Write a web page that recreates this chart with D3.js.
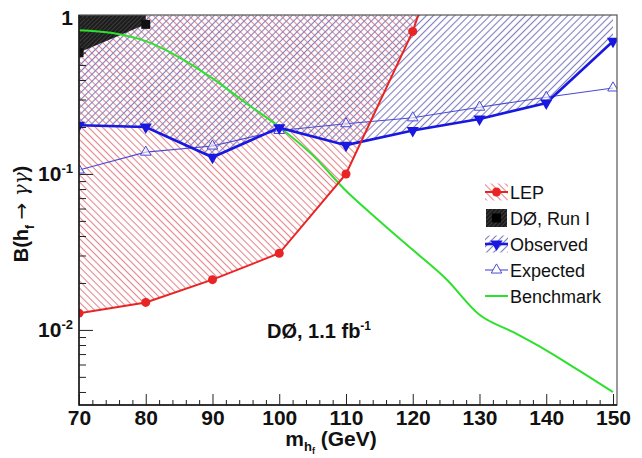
<!DOCTYPE html>
<html>
<head>
<meta charset="utf-8">
<script src="https://cdn.jsdelivr.net/npm/d3@7"></script>
<style>
  body { margin: 0; background: #fff; }
  svg { display: block; font-family: "Liberation Sans", Arial, Helvetica, sans-serif; }
</style>
</head>
<body>
<svg id="chart" width="642" height="458"></svg>
<script>
// Higgs mass points (GeV) and branching ratio limits
var lepMass = [70, 80, 90, 100, 110, 120, 121];
var lepLimit = [0.0128, 0.0150, 0.0210, 0.0310, 0.100, 0.82, 1.1];

var run1Mass = [70, 80];
var run1Limit = [0.60, 0.91];

var limMass = [70, 80, 90, 100, 110, 120, 130, 140, 150];
var obsLimit = [0.205, 0.200, 0.128, 0.198, 0.153, 0.190, 0.225, 0.285, 0.71];
var expLimit = [0.106, 0.138, 0.151, 0.190, 0.210, 0.229, 0.268, 0.310, 0.356];

var benchMass = [70, 75, 80, 85, 90, 95, 100, 105, 110, 115, 120, 125, 130, 135, 140, 145, 150];
var benchBr = [0.835, 0.80, 0.71, 0.56, 0.41, 0.285, 0.200, 0.132, 0.078, 0.050, 0.0326, 0.0212, 0.0125, 0.0097, 0.0074, 0.00546, 0.0040];

var xMajor = [70, 80, 90, 100, 110, 120, 130, 140, 150];
var yMajor = [0.01, 0.1, 1];
var yLabels = [["10", "-2"], ["10", "-1"], ["1", ""]];

var legendNames = ["LEP", "D\u00d8, Run I", "Observed", "Expected", "Benchmark"];

// plot frame (window.top is reserved, so prefixed names)
var pLeft = 79, pRight = 617, pTop = 15, pBottom = 405;

var svg = d3.select("#chart");

var x = d3.scaleLinear().domain([70, 150.6]).range([pLeft, pRight]);
var y = d3.scaleLog().domain([0.0033, 1.045]).range([pBottom, pTop]);
var yTop = y.domain()[1];

var defs = svg.append("defs");

function hatch(id, color, angle, gap, w) {
  var p = defs.append("pattern")
    .attr("id", id)
    .attr("patternUnits", "userSpaceOnUse")
    .attr("width", gap)
    .attr("height", gap)
    .attr("patternTransform", "rotate(" + angle + ")");
  p.append("line")
    .attr("x1", gap / 2).attr("y1", 0)
    .attr("x2", gap / 2).attr("y2", gap)
    .attr("stroke", color)
    .attr("stroke-width", w);
}
hatch("hatchRed", "#e5868c", -45, 5, 1.1);
hatch("hatchBlue", "#8080c0", 45, 5, 1.1);
hatch("hatchDark", "#4a4a4a", 45, 3, 0.7);

defs.append("clipPath").attr("id", "plotClip")
  .append("rect")
  .attr("x", pLeft).attr("y", pTop)
  .attr("width", pRight - pLeft).attr("height", pBottom - pTop);

var plot = svg.append("g").attr("clip-path", "url(#plotClip)");

function areaAbove(xs, ys) {
  return d3.area()
    .x(function(d, i) { return x(xs[i]); })
    .y0(y(yTop))
    .y1(function(d) { return y(d); })(ys);
}

function lineOf(xs, ys, curve) {
  return d3.line()
    .x(function(d, i) { return x(xs[i]); })
    .y(function(d) { return y(d); })
    .curve(curve || d3.curveLinear)(ys);
}

// excluded regions
plot.append("path")
  .attr("d", areaAbove(lepMass, lepLimit))
  .attr("fill", "url(#hatchRed)");

plot.append("path")
  .attr("d", areaAbove(limMass, obsLimit))
  .attr("fill", "url(#hatchBlue)");

plot.append("path")
  .attr("d", areaAbove(run1Mass, run1Limit))
  .attr("fill", "#1c1c1c");
plot.append("path")
  .attr("d", areaAbove(run1Mass, run1Limit))
  .attr("fill", "url(#hatchDark)");

// benchmark curve
plot.append("path")
  .attr("d", lineOf(benchMass, benchBr, d3.curveMonotoneX))
  .attr("fill", "none")
  .attr("stroke", "#2ee02e")
  .attr("stroke-width", 2);

// expected limit
plot.append("path")
  .attr("d", lineOf(limMass, expLimit))
  .attr("fill", "none")
  .attr("stroke", "#4a4ad6")
  .attr("stroke-width", 1.1);

// observed limit
plot.append("path")
  .attr("d", lineOf(limMass, obsLimit))
  .attr("fill", "none")
  .attr("stroke", "#1818e0")
  .attr("stroke-width", 2.6);

// LEP
plot.append("path")
  .attr("d", lineOf(lepMass, lepLimit))
  .attr("fill", "none")
  .attr("stroke", "#e82424")
  .attr("stroke-width", 2);

var triUp = d3.symbol().type(d3.symbolTriangle).size(48);
var triDown = d3.symbol().type(d3.symbolTriangle).size(64);

plot.selectAll(".exp").data(expLimit).enter().append("path")
  .attr("d", triUp)
  .attr("transform", function(d, i) { return "translate(" + x(limMass[i]) + "," + y(d) + ")"; })
  .attr("fill", "#fff")
  .attr("fill-opacity", 0.6)
  .attr("stroke", "#4a4ad6")
  .attr("stroke-width", 1);

plot.selectAll(".obs").data(obsLimit).enter().append("path")
  .attr("d", triDown)
  .attr("transform", function(d, i) { return "translate(" + x(limMass[i]) + "," + y(d) + ") rotate(180)"; })
  .attr("fill", "#1818e0");

plot.selectAll(".lep").data(lepLimit.slice(0, 6)).enter().append("circle")
  .attr("cx", function(d, i) { return x(lepMass[i]); })
  .attr("cy", function(d) { return y(d); })
  .attr("r", 4.5)
  .attr("fill", "#e82424");

plot.selectAll(".run1").data(run1Limit).enter().append("rect")
  .attr("x", function(d, i) { return x(run1Mass[i]) - 4.5; })
  .attr("y", function(d) { return y(d) - 4.5; })
  .attr("width", 9).attr("height", 9)
  .attr("fill", "#111");

// axes
var xMinor = d3.range(72, 150, 2).filter(function(d) { return d % 10 !== 0; });
var yMinor = [];
[0.001, 0.01, 0.1].forEach(function(dec) {
  for (var k = 2; k <= 9; k++) yMinor.push(k * dec);
});
yMinor = yMinor.filter(function(d) { return d > 0.0033 && d < 1; });

var gx = svg.append("g").attr("transform", "translate(0," + pBottom + ")");
gx.call(d3.axisBottom(x).tickValues(xMinor).tickSizeInner(-5).tickSizeOuter(0).tickFormat(""));
gx.select(".domain").remove();
var gx2 = svg.append("g").attr("transform", "translate(0," + pBottom + ")");
gx2.call(d3.axisBottom(x).tickValues(xMajor).tickSizeInner(-11).tickSizeOuter(0).tickPadding(5).tickFormat(d3.format("d")));
gx2.select(".domain").remove();
gx2.selectAll("text")
  .attr("font-size", 21)
  .attr("font-weight", "bold")
  .attr("font-family", "'Liberation Sans', Arial, sans-serif")
  .attr("fill", "#111");

var gy = svg.append("g").attr("transform", "translate(" + pLeft + ",0)");
gy.call(d3.axisLeft(y).tickValues(yMinor).tickSizeInner(-7).tickSizeOuter(0).tickFormat(""));
gy.select(".domain").remove();
var gy2 = svg.append("g").attr("transform", "translate(" + pLeft + ",0)");
gy2.call(d3.axisLeft(y).tickValues(yMajor).tickSizeInner(-14).tickSizeOuter(0).tickFormat(""));
gy2.select(".domain").remove();
svg.selectAll(".tick line").attr("stroke", "#222");

var yl = svg.append("g");
yMajor.forEach(function(v, i) {
  var t = yl.append("text")
    .attr("x", 73)
    .attr("y", y(v) + 7.5)
    .attr("text-anchor", "end")
    .attr("font-size", 21)
    .attr("font-weight", "bold")
    .attr("fill", "#111");
  t.append("tspan").text(yLabels[i][0]);
  if (yLabels[i][1]) {
    t.append("tspan").attr("dy", -8).attr("font-size", 13).text(yLabels[i][1]);
  }
});

// frame
svg.append("rect")
  .attr("x", pLeft).attr("y", pTop)
  .attr("width", pRight - pLeft).attr("height", pBottom - pTop)
  .attr("fill", "none")
  .attr("stroke", "#555")
  .attr("stroke-width", 1.2);
svg.append("path")
  .attr("d", "M" + pLeft + "," + pTop + "V" + pBottom + "H" + pRight)
  .attr("fill", "none")
  .attr("stroke", "#111")
  .attr("stroke-width", 1.4);

// axis titles
var xt = svg.append("text")
  .attr("x", 331).attr("y", 446)
  .attr("text-anchor", "middle")
  .attr("font-size", 21)
  .attr("font-weight", "bold")
  .attr("fill", "#111");
xt.append("tspan").text("m");
xt.append("tspan").attr("font-size", 13).attr("dy", 5).text("h");
xt.append("tspan").attr("font-size", 9).attr("dy", 3).text("f");
xt.append("tspan").attr("dy", -8).text(" (GeV)");

var yt = svg.append("text")
  .attr("transform", "translate(28,214) rotate(-90)")
  .attr("text-anchor", "middle")
  .attr("font-size", 20)
  .attr("font-weight", "bold")
  .attr("fill", "#111");
yt.append("tspan").text("B(h");
yt.append("tspan").attr("font-size", 12).attr("dy", 6).text("f");
yt.append("tspan").attr("dy", -6).text(" ");
yt.append("tspan").attr("font-family", "'DejaVu Sans', sans-serif").attr("font-weight", "normal").text("\u2192");
yt.append("tspan").attr("font-family", "'DejaVu Serif', serif").attr("font-style", "italic").attr("font-weight", "normal").text(" \u03b3\u03b3");
yt.append("tspan").text(")");

// luminosity label
var lum = svg.append("text")
  .attr("x", 267).attr("y", 338)
  .attr("font-size", 20)
  .attr("font-weight", "bold")
  .attr("fill", "#111");
lum.append("tspan").text("D\u00d8, 1.1 fb");
lum.append("tspan").attr("font-size", 12).attr("dy", -8).text("-1");

// legend
var lg = svg.append("g");
var lx = 485, lw = 23, rowY = [192, 218, 244, 270, 296];

lg.append("rect").attr("x", lx).attr("y", rowY[0] - 8.5).attr("width", lw).attr("height", 17).attr("fill", "url(#hatchRed)");
lg.append("line").attr("x1", lx).attr("x2", lx + lw).attr("y1", rowY[0]).attr("y2", rowY[0]).attr("stroke", "#e82424").attr("stroke-width", 2);
lg.append("circle").attr("cx", lx + lw / 2).attr("cy", rowY[0]).attr("r", 4.5).attr("fill", "#e82424");

lg.append("rect").attr("x", lx + 1).attr("y", rowY[1] - 9).attr("width", lw - 2).attr("height", 18).attr("fill", "#1c1c1c");
lg.append("rect").attr("x", lx + 1).attr("y", rowY[1] - 9).attr("width", lw - 2).attr("height", 18).attr("fill", "url(#hatchDark)");
lg.append("rect").attr("x", lx + lw / 2 - 4.5).attr("y", rowY[1] - 4.5).attr("width", 9).attr("height", 9).attr("fill", "#000");

lg.append("rect").attr("x", lx).attr("y", rowY[2] - 8.5).attr("width", lw).attr("height", 17).attr("fill", "url(#hatchBlue)");
lg.append("line").attr("x1", lx).attr("x2", lx + lw).attr("y1", rowY[2]).attr("y2", rowY[2]).attr("stroke", "#1818e0").attr("stroke-width", 2.6);
lg.append("path").attr("d", triDown).attr("transform", "translate(" + (lx + lw / 2) + "," + rowY[2] + ") rotate(180)").attr("fill", "#1818e0");

lg.append("line").attr("x1", lx).attr("x2", lx + lw).attr("y1", rowY[3]).attr("y2", rowY[3]).attr("stroke", "#4a4ad6").attr("stroke-width", 1.1);
lg.append("path").attr("d", triUp).attr("transform", "translate(" + (lx + lw / 2) + "," + rowY[3] + ")").attr("fill", "#fff").attr("stroke", "#4a4ad6").attr("stroke-width", 1);

lg.append("line").attr("x1", lx).attr("x2", lx + lw).attr("y1", rowY[4]).attr("y2", rowY[4]).attr("stroke", "#2ee02e").attr("stroke-width", 2);

lg.selectAll(".lab").data(legendNames).enter().append("text")
  .attr("x", 510)
  .attr("y", function(d, i) { return rowY[i] + 6.5; })
  .attr("font-size", 18)
  .attr("fill", "#111")
  .text(function(d) { return d; });
</script>
</body>
</html>
